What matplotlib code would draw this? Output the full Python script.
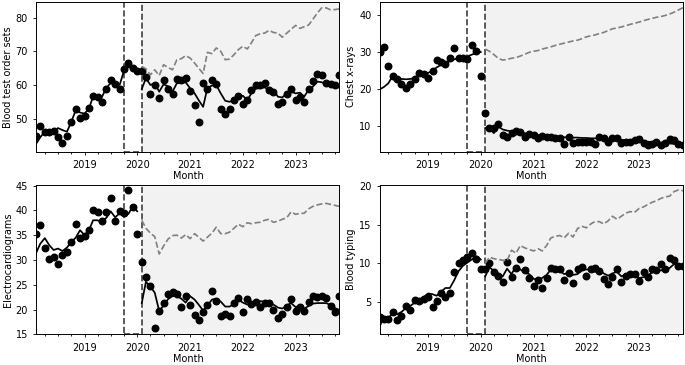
import matplotlib
matplotlib.use('Agg')
import matplotlib.pyplot as plt
import matplotlib.dates as mdates
import numpy as np
import pandas as pd

months = pd.date_range('2018-02-01', periods=70, freq='MS')
pre_months = months[:24]
post_months = months[24:]
washout_start = pd.Timestamp('2019-10-01')
washout_end = pd.Timestamp('2020-02-01')

labels = ['Blood test order sets', 'Chest x-rays', 'Electrocardiograms', 'Blood typing']

# observed monthly rates
blood_obs = [44.8, 47.7, 46.1, 45.9, 46.3, 44.6, 42.8, 44.7, 49.1, 52.9,
             50.3, 50.7, 53.1, 56.6, 56.4, 55.0, 58.9, 61.5, 60.2, 58.9,
             64.6, 66.6, 65.0, 64.1, 64.2, 62.4, 57.3, 60.1, 56.2, 61.6,
             58.8, 57.3, 61.8, 61.6, 62.0, 58.1, 53.9, 48.9, 60.6, 58.8,
             61.4, 60.2, 53.0, 51.3, 52.9, 55.6, 56.8, 54.2, 55.5, 58.6,
             60.1, 60.0, 60.7, 58.6, 58.0, 54.2, 54.9, 57.4, 58.8, 55.6,
             56.4, 55.0, 58.9, 61.1, 63.4, 63.0, 60.7, 60.4, 60.0, 62.9]
xray_obs = [30.0, 31.4, 26.3, 23.5, 22.7, 21.3, 20.3, 21.3, 22.7, 24.4,
            24.0, 23.0, 24.8, 27.8, 27.4, 26.7, 28.3, 31.2, 28.5, 28.4,
            28.1, 31.9, 30.3, 23.5, 13.5, 9.3, 9.3, 10.5, 7.6, 7.0,
            8.1, 8.6, 8.2, 7.0, 7.7, 7.5, 6.6, 7.2, 7.0, 7.0,
            6.8, 6.6, 5.0, 7.0, 5.4, 5.5, 5.7, 5.7, 5.7, 5.0,
            7.0, 6.7, 5.7, 6.7, 6.7, 5.4, 5.7, 5.6, 6.1, 6.3,
            5.4, 4.7, 5.0, 5.5, 4.7, 5.4, 6.3, 6.1, 5.0, 4.8]
ecg_obs = [35.2, 37.1, 32.4, 30.1, 30.5, 29.2, 31.0, 31.7, 33.6, 37.3,
           34.4, 34.8, 36.1, 40.0, 39.6, 37.8, 39.6, 42.4, 37.8, 39.8,
           39.5, 44.1, 40.6, 35.2, 29.5, 26.6, 24.8, 16.3, 19.8, 21.3,
           23.1, 23.6, 23.1, 20.5, 22.8, 21.0, 18.9, 17.8, 19.6, 21.0,
           23.7, 21.8, 18.6, 19.2, 18.6, 21.3, 22.3, 19.6, 22.1, 21.2,
           21.6, 20.6, 21.3, 21.4, 19.9, 18.2, 19.1, 20.6, 22.2, 19.8,
           20.6, 19.7, 21.6, 22.7, 22.6, 22.8, 22.4, 20.8, 19.6, 22.7]
typing_obs = [3.1, 2.8, 2.8, 3.7, 2.7, 3.2, 4.5, 4.0, 5.3, 5.1,
              5.4, 5.6, 4.4, 5.1, 6.2, 5.7, 6.2, 8.9, 10.1, 10.4,
              10.8, 11.3, 10.5, 9.3, 9.3, 10.1, 8.9, 8.3, 7.6, 10.2,
              8.2, 9.4, 10.5, 9.1, 8.1, 7.1, 7.9, 6.8, 8.1, 9.4,
              9.2, 9.2, 7.8, 8.8, 7.4, 9.3, 9.5, 8.3, 9.2, 9.4,
              9.0, 8.0, 7.3, 8.2, 9.3, 7.6, 8.3, 8.6, 8.6, 7.7,
              8.9, 8.2, 9.2, 9.1, 9.9, 9.2, 10.7, 10.4, 9.7, 9.7]

# fitted values before the washout
blood_pre = [42.6, 44.5, 46.1, 46.1, 46.0, 47.2, 46.6, 46.1, 49.0, 52.5, 51.8, 51.5,
             53.0, 56.6, 56.5, 56.4, 59.1, 60.6, 60.8, 60.0, 64.2, 65.3, 65.0, 64.3]
xray_pre = [19.9, 20.5, 21.5, 23.5, 23.0, 22.7, 22.6, 22.7, 23.0, 23.6, 24.0, 24.3,
            25.0, 25.8, 26.5, 27.0, 27.5, 28.0, 28.3, 28.5, 28.8, 29.3, 29.7, 30.0]
ecg_pre = [31.5, 33.3, 34.4, 33.0, 32.0, 32.3, 31.8, 32.5, 33.6, 34.5, 36.0, 35.0,
           36.0, 38.0, 38.0, 37.6, 38.5, 39.8, 38.6, 39.4, 38.8, 39.3, 40.8, 39.8]
typing_pre = [1.9, 2.9, 2.9, 3.5, 3.4, 3.7, 4.2, 4.5, 4.9, 5.3, 5.6, 6.1,
              6.0, 5.8, 6.3, 6.8, 6.8, 7.8, 9.0, 9.7, 10.1, 10.5, 10.9, 10.5]

# fitted values after the washout
blood_post = [58.8, 62.0, 60.0, 60.5, 58.0, 60.2, 59.6, 58.0, 60.5, 60.6, 60.8, 59.0,
              57.5, 55.5, 53.5, 59.2, 59.8, 60.0, 57.5, 55.3, 55.0, 55.5, 56.5, 56.8,
              55.5, 57.5, 59.0, 59.0, 59.3, 58.5, 58.5, 56.5, 56.3, 57.5, 58.0, 57.5,
              57.7, 56.5, 58.5, 59.5, 61.0, 60.8, 60.3, 59.8, 59.5, 59.2]
xray_post = [9.4, 9.2, 8.0, 9.8, 9.0, 8.7, 8.5, 8.3, 8.2, 8.0, 7.8, 7.6,
             7.5, 7.4, 7.3, 7.2, 7.1, 7.0, 6.9, 6.9, 6.8, 6.8, 6.7, 6.7,
             6.6, 6.6, 6.5, 6.5, 6.4, 6.3, 6.3, 6.2, 6.1, 6.0, 6.0, 5.9,
             5.8, 5.7, 5.6, 5.5, 5.4, 5.3, 5.2, 5.1, 4.9, 4.7]
ecg_post = [21.3, 25.6, 24.6, 23.4, 19.7, 20.8, 22.1, 22.7, 22.7, 22.2, 21.4, 22.7,
            22.0, 21.0, 19.8, 20.8, 22.0, 22.2, 21.6, 20.6, 20.6, 21.1, 22.0, 21.4,
            21.0, 21.6, 21.2, 21.7, 21.6, 21.4, 21.0, 20.4, 20.2, 20.8, 21.3, 20.5,
            20.8, 20.2, 20.7, 21.2, 21.3, 21.3, 21.3, 20.9, 20.3, 19.9]
typing_post = [8.3, 9.5, 9.0, 8.7, 8.3, 9.3, 8.6, 9.6, 9.2, 8.8, 8.6, 8.0,
               7.8, 8.1, 8.5, 9.2, 9.2, 9.0, 8.6, 8.8, 8.5, 8.6, 9.2, 9.2,
               9.2, 8.9, 9.1, 8.7, 8.4, 8.7, 8.9, 8.3, 8.6, 8.3, 8.4, 8.1,
               8.2, 8.4, 8.8, 9.0, 9.1, 9.0, 9.4, 9.9, 9.8, 9.7]

# counterfactual (no pandemic) predictions
blood_cf = [65.5, 64.8, 63.0, 64.5, 62.8, 66.0, 65.2, 64.5, 67.5, 67.8, 68.7, 68.0,
            66.5, 65.0, 63.4, 69.7, 69.3, 71.0, 70.0, 67.5, 67.7, 69.0, 70.5, 71.5,
            70.7, 72.5, 74.7, 75.2, 75.4, 76.2, 75.6, 75.4, 74.2, 75.4, 76.5, 77.7,
            76.8, 77.3, 77.8, 79.5, 81.4, 82.9, 82.9, 82.3, 82.4, 82.6]
xray_cf = [30.8, 30.2, 29.3, 28.3, 27.8, 28.0, 28.3, 28.5, 28.9, 29.4, 29.9, 30.2,
           30.4, 30.8, 31.1, 31.4, 31.8, 32.1, 32.4, 32.7, 33.0, 33.2, 33.6, 34.1,
           34.4, 34.6, 35.0, 35.3, 35.8, 36.3, 36.5, 36.8, 37.1, 37.5, 37.8, 38.1,
           38.5, 38.8, 39.1, 39.4, 39.6, 39.9, 40.3, 40.8, 41.4, 42.0]
ecg_cf = [38.0, 36.4, 35.4, 34.7, 31.2, 32.8, 34.2, 34.9, 35.0, 34.4, 35.1, 34.3,
          35.3, 34.6, 33.8, 34.6, 35.4, 36.6, 35.3, 35.3, 35.6, 36.4, 37.2, 36.7,
          37.5, 37.3, 37.5, 37.6, 38.0, 38.2, 37.6, 37.8, 38.2, 38.5, 39.7, 39.2,
          39.4, 39.4, 40.3, 40.8, 41.1, 41.3, 41.4, 41.2, 41.0, 40.8]
typing_cf = [10.0, 10.8, 10.6, 10.5, 10.4, 10.3, 11.7, 11.3, 12.3, 12.0, 11.8, 11.6,
             11.9, 11.6, 12.3, 13.3, 13.5, 13.6, 13.3, 13.9, 13.4, 14.5, 14.8, 14.6,
             15.1, 15.4, 15.4, 15.1, 15.5, 16.1, 15.7, 16.1, 16.5, 16.7, 16.6, 17.1,
             17.3, 17.6, 17.9, 18.1, 18.4, 18.6, 18.7, 19.3, 19.5, 19.4]

obs = [blood_obs, xray_obs, ecg_obs, typing_obs]
pre = [blood_pre, xray_pre, ecg_pre, typing_pre]
post = [blood_post, xray_post, ecg_post, typing_post]
cf = [blood_cf, xray_cf, ecg_cf, typing_cf]
ylims = [(40.2, 84.7), (3.0, 43.6), (15.0, 45.2), (0.8, 20.2)]
yticks = [[50, 60, 70, 80], [10, 20, 30, 40], [15, 20, 25, 30, 35, 40, 45], [5, 10, 15, 20]]

plt.rcParams['font.size'] = 7

fig, axes = plt.subplots(2, 2, figsize=(6.85, 3.65), dpi=100)
plt.subplots_adjust(left=0.053, right=0.997, bottom=0.084, top=0.995,
                    wspace=0.133, hspace=0.22)

for k, ax in enumerate(axes.flat):
    ax.axvspan(washout_end, months[-1], color='grey', alpha=0.1, lw=0)
    ax.axvspan(washout_start, washout_end, fill=False, ls='--', ec='black',
               lw=1.2, alpha=0.75)
    ax.plot(months, obs[k], 'o', color='black', ms=4.7)
    ax.plot(pre_months, pre[k], '-', color='black', lw=1.25)
    ax.plot(post_months, post[k], '-', color='black', lw=1.25)
    ax.plot(post_months, cf[k], '--', color='grey', lw=1.2)
    ax.set_xlim(months[0], months[-1])
    ax.set_ylim(*ylims[k])
    ax.set_yticks(yticks[k])
    ax.xaxis.set_major_locator(mdates.YearLocator())
    ax.xaxis.set_major_formatter(mdates.DateFormatter('%Y'))
    ax.xaxis.set_minor_locator(mdates.MonthLocator(bymonth=[1, 4, 7, 10]))
    ax.tick_params(which='major', length=2.5, width=0.6, labelsize=7)
    ax.tick_params(which='minor', length=1.6, width=0.6)
    for s in ax.spines.values():
        s.set_linewidth(0.7)
    ax.set_xlabel('Month', fontsize=7, labelpad=1)
    ax.set_ylabel(labels[k], fontsize=7, labelpad=2)

plt.savefig('out.png', dpi=100)
